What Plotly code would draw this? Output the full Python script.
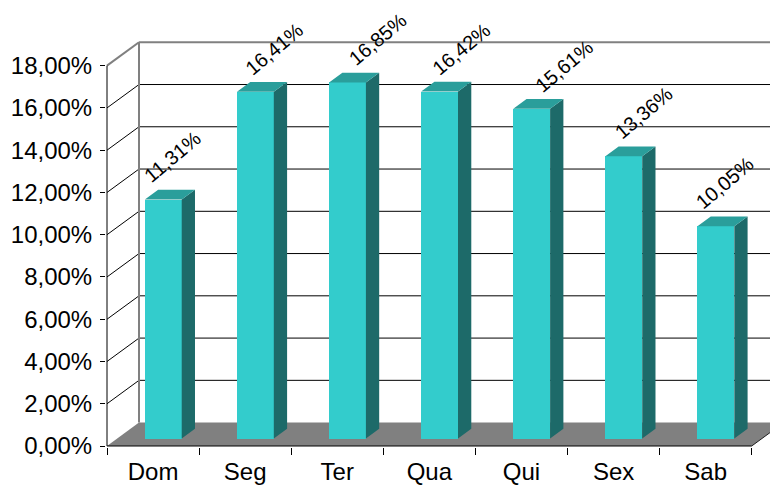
import plotly.graph_objects as go

# Share of records by weekday (%)
days = ["Dom", "Seg", "Ter", "Qua", "Qui", "Sex", "Sab"]
shares = [11.31, 16.41, 16.85, 16.42, 15.61, 13.36, 10.05]
y_ticks = [0, 2, 4, 6, 8, 10, 12, 14, 16, 18]
y_tick_text = ["0,00%", "2,00%", "4,00%", "6,00%", "8,00%", "10,00%",
               "12,00%", "14,00%", "16,00%", "18,00%"]

# sideways nudge (px) of each rotated value label
label_dx_px = [19, 29, 41, 32, 43, 30, 19]

# --- pseudo-3D geometry (axis units) ---
PX_X = 92.1          # px per category
PX_Y = 21.13         # px per percentage point
DX = 32 / PX_X       # depth shift of the back wall, x units
DY = 23.4 / PX_Y     # depth shift of the back wall, y units
F0 = 0.32            # depth fraction of the bar front face
BD = 0.415           # bar depth fraction
BW = 0.4             # bar width (category units)

FRONT = "#33CCCC"
SIDE = "#1D6A69"
TOP = "#2A9E9B"
FLOOR = "#808080"

n = len(days)
xs = list(range(n))
base = F0 * DY
front_x = [c + F0 * DX for c in xs]

fig = go.Figure()

# front faces
fig.add_trace(go.Bar(
    x=front_x, y=shares, base=base, width=BW,
    marker=dict(color=FRONT, line=dict(width=0)),
    hoverinfo="skip", showlegend=False,
))

# right side faces and top faces
sx, sy, tx, ty = [], [], [], []
for fx, v in zip(front_x, shares):
    xl, xr = fx - BW / 2, fx + BW / 2
    top = base + v
    ox, oy = BD * DX, BD * DY
    sx += [xr, xr + ox, xr + ox, xr, xr, None]
    sy += [base, base + oy, top + oy, top, base, None]
    tx += [xl, xr, xr + ox, xl + ox, xl, None]
    ty += [top, top, top + oy, top + oy, top, None]

fig.add_trace(go.Scatter(x=sx, y=sy, mode="lines", fill="toself",
                         fillcolor=SIDE, line=dict(width=0, color=SIDE),
                         hoverinfo="skip", showlegend=False))
fig.add_trace(go.Scatter(x=tx, y=ty, mode="lines", fill="toself",
                         fillcolor=TOP, line=dict(width=0, color=TOP),
                         hoverinfo="skip", showlegend=False))

# floor, walls and gridlines behind the bars
x0, x1 = -0.5, n - 0.5
shapes = [
    dict(type="path", layer="below", xref="x", yref="y",
         path=f"M{x0},0 L{x1},0 L{x1 + DX},{DY} L{x0 + DX},{DY} Z",
         fillcolor=FLOOR, line=dict(width=0)),
    dict(type="line", layer="below", xref="x", yref="y",
         x0=x1, y0=0, x1=x1 + DX, y1=DY, line=dict(color="#202020", width=1)),
]
for t in y_ticks[1:]:
    edge = t == y_ticks[-1]
    col = "#808080" if edge else "#000000"
    w = 2 if edge else 1
    shapes.append(dict(type="line", layer="below", xref="x", yref="y",
                       x0=x0 + DX, y0=t + DY, x1=x1 + DX, y1=t + DY,
                       line=dict(color=col, width=w)))
    shapes.append(dict(type="line", layer="below", xref="x", yref="y",
                       x0=x0, y0=t, x1=x0 + DX, y1=t + DY,
                       line=dict(color=col, width=w)))
# back wall left edge
shapes.append(dict(type="line", layer="below", xref="x", yref="y",
                   x0=x0 + DX, y0=DY, x1=x0 + DX, y1=y_ticks[-1] + DY,
                   line=dict(color="#808080", width=2)))
# front axis lines
shapes.append(dict(type="line", layer="above", xref="x", yref="y",
                   x0=x0, y0=0, x1=x0, y1=y_ticks[-1],
                   line=dict(color="#000000", width=1)))
shapes.append(dict(type="line", layer="above", xref="x", yref="y",
                   x0=x0, y0=0, x1=x1, y1=0,
                   line=dict(color="#000000", width=1)))

# rotated value labels
annotations = []
for c, fx, v, dxp in zip(xs, front_x, shares, label_dx_px):
    annotations.append(dict(
        x=c + dxp / PX_X, y=base + v + 43 / PX_Y, xref="x", yref="y",
        text=f"{v:.2f}%".replace(".", ","), showarrow=False,
        textangle=-40, xanchor="center", yanchor="middle",
        font=dict(family="Liberation Sans, Arial, sans-serif", size=20,
                  color="#000000"),
    ))

W, H = 770, 489
ML, MB = 106, 42
x_start = x0 - 1 / PX_X
y_start = -1 / PX_Y
fig.update_layout(
    width=W, height=H,
    margin=dict(l=ML, r=0, t=0, b=MB, pad=0),
    paper_bgcolor="white", plot_bgcolor="white",
    shapes=shapes, annotations=annotations,
    showlegend=False, bargap=0,
    font=dict(family="Liberation Sans, Arial, sans-serif", size=24,
              color="#000000"),
    xaxis=dict(
        range=[x_start, x_start + (W - ML) / PX_X],
        tickmode="array", tickvals=xs, ticktext=days,
        ticks="", showgrid=False, zeroline=False, showline=False,
        tickfont=dict(size=24), ticklabelstandoff=8,
        minor=dict(tickmode="array",
                   tickvals=[i - 0.5 for i in range(n + 1)],
                   ticks="outside", ticklen=7, tickcolor="#000000",
                   tickwidth=1, showgrid=False),
        fixedrange=True,
    ),
    yaxis=dict(
        range=[y_start, y_start + (H - MB) / PX_Y],
        tickmode="array", tickvals=y_ticks, ticktext=y_tick_text,
        ticks="outside", ticklen=5, tickcolor="#000000", tickwidth=1,
        showgrid=False, zeroline=False, showline=False,
        tickfont=dict(size=24), ticklabelstandoff=3,
        fixedrange=True,
    ),
)

fig.write_html("out.html", config={"displayModeBar": False})
